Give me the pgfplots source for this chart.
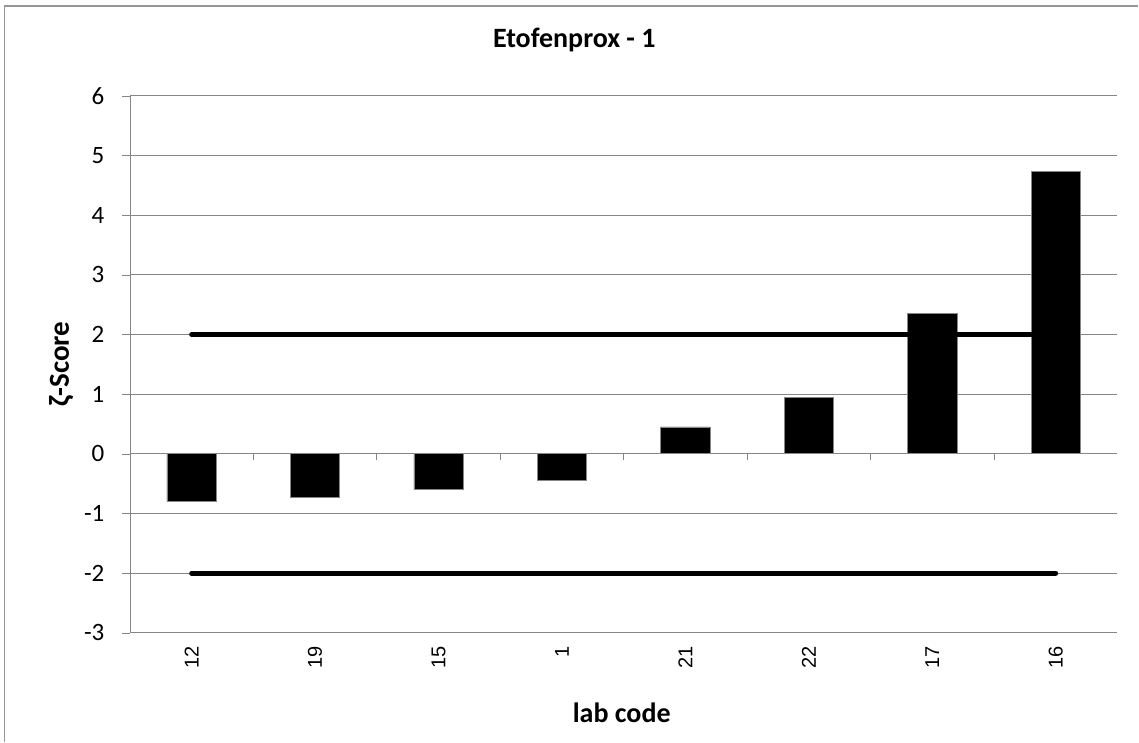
\documentclass[border=0pt]{standalone}
\usepackage{fontspec}
\setmainfont{Carlito}
\newfontfamily\arialfont{Liberation Sans}
\usepackage{pgfplots}
\pgfplotsset{compat=1.18}
\definecolor{gridgray}{RGB}{134,134,134}
\definecolor{framegray}{RGB}{150,150,150}
\begin{document}
\begin{tikzpicture}
\begin{axis}[
  scale only axis,
  width=988pt, height=537pt,
  xmin=-0.5, xmax=7.5,
  ymin=-3, ymax=6,
  ytick={-3,-2,...,6},
  xtick={0,...,7},
  xticklabels={12,19,15,1,21,22,17,16},
  axis lines*=left,
  axis line style={-, gridgray},
  x axis line style={draw=none},
  major x tick style={draw=none},
  y tick style={gridgray},
  tick align=outside,
  major tick length=8pt,
  ymajorgrids,
  grid style={gridgray, line width=0.9pt},
  /pgf/number format/assume math mode=true,
  x tick label style={rotate=90, anchor=east, xshift=-2pt, font=\arialfont\fontsize{20}{24}\selectfont},
  y tick label style={xshift=-14pt, font=\fontsize{25}{29}\selectfont},
  title={\textbf{Etofenprox - 1}},
  title style={at={(rel axis cs:0.45,1)}, anchor=center, yshift=50pt, font=\fontsize{28}{32}\selectfont},
  xlabel={\textbf{lab code}},
  xlabel style={at={(rel axis cs:0.498,0)}, anchor=center, yshift=-80pt, font=\fontsize{28}{32}\selectfont},
  ylabel={\textbf{ζ-Score}},
  ylabel style={font=\fontsize{29}{33}\selectfont},
  ylabel shift=4pt,
  clip=false,
]
\draw[gridgray, line width=0.9pt] (axis cs:-0.5,0) -- (axis cs:7.5,0);
\pgfplotsinvokeforeach{0.5,1.5,2.5,3.5,4.5,5.5,6.5}{\draw[gridgray, line width=0.9pt] (axis cs:#1,0) -- ([yshift=-6pt]axis cs:#1,0);}
\addplot[ybar, bar width=0.4, fill=black, draw=gridgray, line width=0.6pt] coordinates {
  (0,-0.80) (1,-0.73) (2,-0.60) (3,-0.45) (4,0.45) (5,0.95) (6,2.36) (7,4.73)
};
\addplot[black, line width=5pt, line cap=round] coordinates {(0,2) (7,2)};
\addplot[black, line width=5pt, line cap=round] coordinates {(0,-2) (7,-2)};
\end{axis}
\draw[framegray, line width=1.2pt] ([xshift=-125.5pt,yshift=-109pt]current axis.south west) -- ([xshift=-125.5pt,yshift=90pt]current axis.north west) -- ([xshift=21pt,yshift=90pt]current axis.north east);
\useasboundingbox ([xshift=-130pt,yshift=-109pt]current axis.south west) rectangle ([xshift=21pt,yshift=96pt]current axis.north east);
\end{tikzpicture}
\end{document}
